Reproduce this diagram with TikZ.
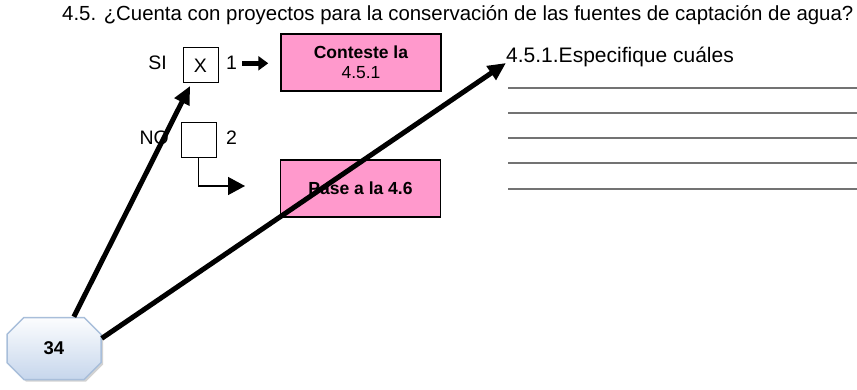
\documentclass[tikz,border=0pt]{standalone}
\usepackage{fontspec}
\setmainfont{Liberation Sans}
\usetikzlibrary{calc,positioning,arrows.meta,shapes,shadows}
\definecolor{boxpink}{RGB}{255,153,204}
\definecolor{octoline}{RGB}{168,190,218}
\definecolor{octofill}{RGB}{198,214,236}

\begin{document}
\begin{tikzpicture}[x=1pt, y=-1pt,
  txt/.style={inner sep=0pt, font=\fontsize{19.5}{22}\selectfont},
  chk/.style={draw, line width=1pt, minimum size=35pt, inner sep=0pt, font=\fontsize{19.5}{22}\selectfont},
  pinkbox/.style={draw, line width=1.5pt, fill=boxpink, minimum width=160pt, minimum height=57pt, inner sep=0pt, align=center, font=\fontsize{17.5}{20}\selectfont},
  octo/.style={chamfered rectangle, chamfered rectangle xsep=16pt, chamfered rectangle ysep=20pt, minimum width=94pt, minimum height=62pt, inner sep=0pt,
    draw=octoline, line width=1.5pt, top color=white!95!octofill, bottom color=octofill,
    drop shadow={shadow xshift=2pt, shadow yshift=-2pt, fill=black!35}, font=\bfseries\fontsize{18.5}{20}\selectfont},
  fat/.style={line width=5pt, -{Triangle[length=18pt,width=16pt]}},
  thin/.style={line width=1.5pt, -{Triangle[length=17pt,width=18pt]}},
  rule/.style={line width=1.4pt, black!55}]
\useasboundingbox (0,0) rectangle (857,390);
\node[txt, anchor=base west, font=\fontsize{20.4}{24}\selectfont] (title) at (62,21) {4.5. ¿Cuenta con proyectos para la conservación de las fuentes de captación de agua?};
\node[chk] (sibox) at (200.5,65.5) {X};
\node[chk] (nobox) at (198.5,140) {};
\node[txt, anchor=base east] (si) at (167,70) {SI};
\node[txt, anchor=base west] (one) at (226,70) {1};
\node[txt, anchor=base east] (no) at (169,145) {NO};
\node[txt, anchor=base west] (two) at (226,145) {2};
\node[pinkbox] (conteste) at (361,62.5) {\textbf{Conteste la}\\4.5.1};
\node[pinkbox, font=\bfseries\fontsize{17.5}{20}\selectfont] (pase) at (360.5,188.5) {Pase a la 4.6};
\node[txt, anchor=base west, font=\fontsize{21}{24}\selectfont] (espec) at (506,63) {4.5.1.Especifique cuáles};
\foreach \y in {88,113,138,163,189}{\draw[rule] (508,\y) -- (857,\y);}
\node[octo] (num) at (54,348.5) {34};
\draw[line width=5pt, -{Triangle[length=10pt,width=14pt]}] ([xshift=5pt]one.east) -- ([xshift=-12pt]conteste.west |- one.east);
\coordinate (pasetip) at (245,186);
\draw[thin] (nobox.south) |- (pasetip);
\coordinate (sitip) at (190,86);
\draw[fat] (num.58) -- (sitip);
\draw[fat] (num.12) -- (espec.base west);
\end{tikzpicture}
\end{document}
